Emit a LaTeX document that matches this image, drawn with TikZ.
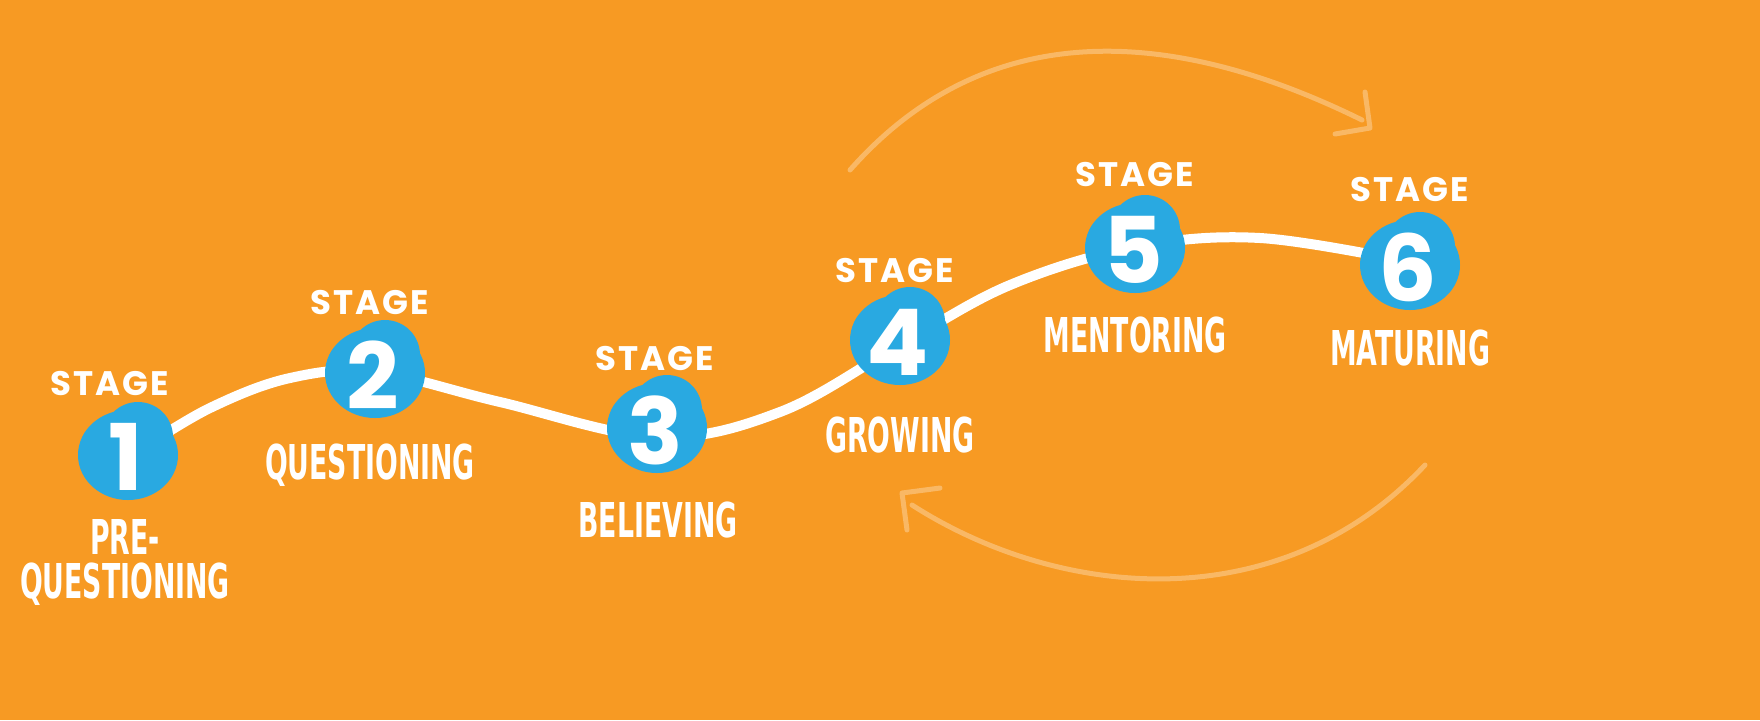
\documentclass[tikz,border=0pt]{standalone}
\usepackage{fontspec}
\setmainfont{Poppins}
\newfontfamily\labfont[FakeStretch=0.62]{DejaVu Sans Condensed}
\newfontfamily\stgfont[LetterSpace=6]{Poppins}
\newfontfamily\digfont{Poppins}
\definecolor{bg}{HTML}{F79A23}
\definecolor{blob}{HTML}{29A9E1}
\begin{document}
\begin{tikzpicture}[x=0.5pt,y=-0.5pt,
  stg/.style={text=white,font=\stgfont\bfseries\fontsize{17}{20}\selectfont,inner sep=0},
  lab/.style={text=white,font=\labfont\bfseries\fontsize{24}{22}\selectfont,inner sep=0,align=center},
  dig/.style={text=white,font=\digfont\bfseries\fontsize{46}{46}\selectfont,inner sep=0},
  faint/.style={draw=white,opacity=0.3,line width=2.5pt,line cap=round,line join=round}]
\fill[bg] (0,0) rectangle (1760,720);
\useasboundingbox (0,0) rectangle (1760,720);
% faint arrows
\draw[faint] (850,170) .. controls (1000,0) and (1200,40) .. (1362,120);
\draw[faint] (1365,92) -- (1370,128) -- (1335,134);
\draw[faint] (1425,465) .. controls (1280,620) and (1060,600) .. (912,505);
\draw[faint] (940,488) -- (902,493) -- (907,530);
% path
\draw[white,line width=5pt,line cap=round] plot[smooth,tension=0.6] coordinates
 {(140,450) (210,408) (290,378) (375,372) (500,402) (657,437) (780,412) (900,345) (1010,285) (1135,247) (1260,238) (1410,262)};
% blobs
\foreach \n/\x/\y in {1/128/455,2/375/373,3/657/428,4/900/340,5/1135/248,6/1410/265}{
  \fill[blob] (\x,\y) circle[x radius=50, y radius=45];
  \fill[blob] (\x+10,\y-18) circle[radius=35];
  \fill[blob] (\x-25,\y-10) circle[radius=22];
  \node[dig] (d\n) at (\x-2,\y+2) {\n};
}
\node[stg] (s1) at (110,383) {STAGE};
\node[stg] (s2) at (370,303) {STAGE};
\node[stg] (s3) at (655,358) {STAGE};
\node[stg] (s4) at (895,270) {STAGE};
\node[stg] (s5) at (1135,175) {STAGE};
\node[stg] (s6) at (1410,190) {STAGE};
\node[lab] (l1) at (125,562) {PRE-\\QUESTIONING};
\node[lab] (l2) at (370,465) {QUESTIONING};
\node[lab] (l3) at (658,520) {BELIEVING};
\node[lab] (l4) at (900,435) {GROWING};
\node[lab] (l5) at (1135,335) {MENTORING};
\node[lab] (l6) at (1410,348) {MATURING};
\end{tikzpicture}
\end{document}
